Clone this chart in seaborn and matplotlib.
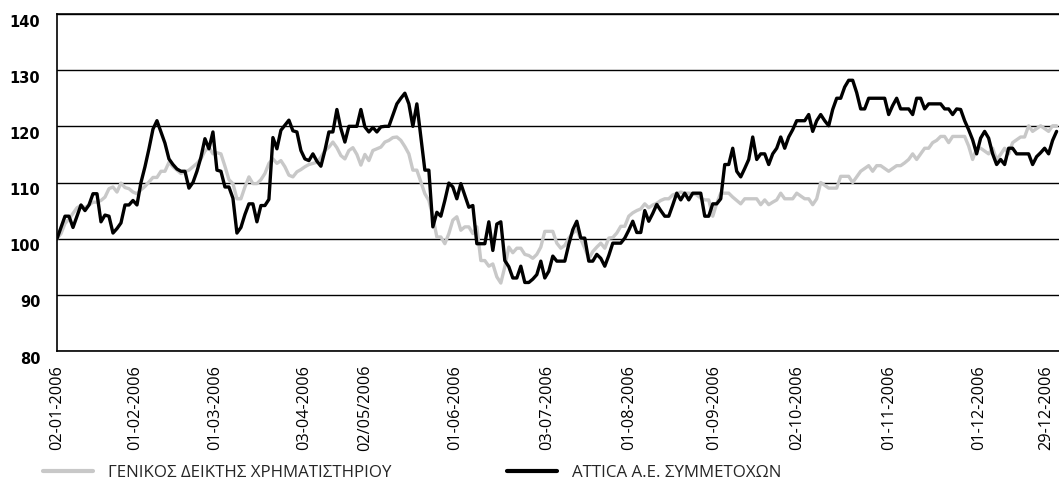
import matplotlib
matplotlib.use("Agg")
import matplotlib.pyplot as plt
import matplotlib.transforms as mtransforms
import seaborn as sns
import pandas as pd
import numpy as np

series_names = ["ΓΕΝΙΚΟΣ ΔΕΙΚΤΗΣ ΧΡΗΜΑΤΙΣΤΗΡΙΟΥ", "ATTICA Α.Ε. ΣΥΜΜΕΤΟΧΩΝ"]

general_index = [
    100, 100.9, 102.7, 103.5, 104.5, 105.5, 105.9, 105.5, 106, 106.5,
    106.5, 106.8, 107.4, 108.9, 109.2, 108.3, 109.9, 109.1, 108.9, 108.3,
    108, 108.7, 109.3, 110.1, 110.9, 110.9, 112, 112, 113.6, 112.8,
    112.2, 111.6, 111.9, 112.2, 112.8, 113.4, 114.2, 115.6, 116.3, 115.1,
    115.3, 115.1, 112.9, 110.5, 109.8, 107.1, 107.1, 109.2, 111, 109.8,
    109.8, 110.5, 111.6, 113.4, 114.2, 113.4, 113.9, 112.8, 111.3, 111,
    111.9, 112.3, 112.8, 113.2, 113.4, 113.6, 114.5, 115.7, 116.3, 117.2,
    116.2, 114.8, 114.2, 115.7, 116.2, 115, 113.1, 115, 113.9, 115.7,
    116, 116.3, 117.2, 117.5, 118, 118.1, 117.5, 116.4, 115.1, 112.2,
    112.2, 110.1, 108, 106.8, 103.9, 100.3, 100.3, 99.1, 100.9, 103.3,
    103.9, 101.5, 102.1, 102.1, 100.9, 102.1, 96.1, 96.1, 95.1, 95.5,
    93.2, 92.1, 95, 98.5, 97.5, 98.3, 98.3, 97.2, 97, 96.5,
    97.2, 98.5, 101.3, 101.3, 101.3, 99.2, 98.3, 98.8, 100.1, 101,
    101.6, 99.9, 98.3, 96.4, 97.7, 98.5, 99.2, 98.3, 100.1, 100.2,
    101, 102.2, 102.2, 104, 104.6, 105, 105.3, 106.2, 105.5, 106,
    106.3, 106.8, 107.1, 107.1, 107.8, 108, 108.3, 108.1, 108.1, 108,
    107.8, 107.2, 106.9, 106.9, 104, 106.3, 108.1, 108.1, 108.1, 107.4,
    106.8, 106.2, 107.1, 107.1, 107.1, 107.1, 106.05, 106.9, 106.05, 106.5,
    106.9, 108.1, 107.1, 107.1, 107.1, 108.1, 107.6, 107.1, 107.1, 106.05,
    107.1, 110, 109.5, 109, 109, 109, 111.1, 111.1, 111.1, 110,
    111, 112, 112.5, 113, 112, 113, 113, 112.5, 112, 112.5,
    113, 113, 113.5, 114.1, 115.1, 114.1, 115.1, 116.1, 116.1, 117.1,
    117.5, 118.2, 118.2, 117.1, 118.2, 118.2, 118.2, 118.2, 116.5, 114.1,
    116.1, 116.1, 115.6, 115.1, 116.1, 114.1, 115, 116.1, 115.1, 117.1,
    117.6, 118.1, 118.1, 120.1, 119.1, 119.6, 120.1, 119.6, 119.1, 120.1,
    120.1,
]

attica = [
    100, 102, 104, 104, 102, 104, 106, 105, 106, 108,
    108, 103, 104.2, 104, 101, 101.8, 102.8, 106, 106, 106.8,
    106, 110, 112.8, 116, 119.5, 121, 119, 117, 114.2, 113.2,
    112.4, 112, 112, 109, 110, 112, 114.5, 117.8, 116, 119,
    112.2, 112, 109.2, 109.2, 107.2, 101, 102, 104.3, 106.2, 106.2,
    103, 105.9, 105.9, 107, 118, 116, 119.3, 120.2, 121.1, 119.2,
    119, 115.7, 114.2, 113.9, 115.1, 113.8, 112.9, 115.7, 119, 119,
    123, 119.6, 117.2, 120, 120, 120, 123, 119.9, 119, 119.8,
    119, 119.9, 120, 120, 122, 124, 125, 125.9, 124, 120,
    124, 118.1, 112.2, 112.2, 102.1, 104.7, 104, 106.8, 109.9, 109.2,
    107.1, 109.8, 107.7, 105.6, 105.9, 99.1, 99.1, 99.1, 103, 97.9,
    102.6, 103, 96.1, 95, 93, 93, 95.1, 92.2, 92.2, 92.8,
    93.6, 96, 93, 94.2, 96.9, 96, 96, 96, 99, 101.6,
    103.1, 100.1, 100.1, 96, 96, 97.2, 96.5, 95.1, 97, 99.2,
    99.2, 99.2, 100.1, 101.5, 103.1, 101.1, 101.1, 105, 103.1, 104.5,
    106.1, 105, 104, 104, 106, 108.1, 106.9, 108.1, 106.9, 108.1,
    108.1, 108.1, 104, 104, 106.2, 106.2, 107.1, 113.2, 113.2, 116.1,
    112, 111, 112.5, 114.1, 118.1, 114.1, 115.1, 115.1, 113.2, 115.1,
    116.1, 118.1, 116.1, 118.1, 119.4, 121, 121, 121, 122.1, 119.1,
    121, 122.1, 121, 120.1, 123, 125, 125, 127, 128.2, 128.2,
    126, 123.1, 123.1, 125, 125, 125, 125, 125, 122.1, 123.7,
    125, 123.1, 123.1, 123.1, 122.1, 125, 125, 123.1, 124, 124,
    124, 124, 123.1, 123.1, 122.1, 123.1, 123, 121, 119.4, 117.6,
    115.1, 117.9, 119.1, 117.9, 115.1, 113.2, 114.1, 113.2, 116.1, 116.1,
    115.1, 115.1, 115.1, 115.1, 113.2, 114.6, 115.3, 116.1, 115.1, 117.5,
    119.1,
]

tick_labels = ["02-01-2006", "01-02-2006", "01-03-2006", "03-04-2006", "02/05/2006",
               "01-06-2006", "03-07-2006", "01-08-2006", "01-09-2006", "02-10-2006",
               "01-11-2006", "01-12-2006", "29-12-2006"]
tick_days = [0, 19.5, 39.5, 61.75, 77, 99.5, 122.5, 143, 164.25, 185, 208, 230.5, 247.5]
y_ticks = [80, 90, 100, 110, 120, 130, 140]

sns.set_theme(style="white")
plt.rcParams['font.family'] = ['Open Sans', 'DejaVu Sans']

W, H = 1059, 479
fig = plt.figure(figsize=(W / 100, H / 100), dpi=100)
ax = fig.add_axes([57 / W, 1 - 351 / H, 1 - 57 / W, (351 - 14) / H])

days = np.arange(len(attica))
df = pd.concat([
    pd.DataFrame({"day": days, "value": general_index, "series": series_names[0]}),
    pd.DataFrame({"day": days, "value": attica, "series": series_names[1]}),
], ignore_index=True)

sns.lineplot(data=df, x="day", y="value", hue="series", hue_order=series_names,
             palette=["#c8c8c8", "#000000"], linewidth=2.4, ax=ax)

handles, labels = ax.get_legend_handles_labels()
ax.get_legend().remove()
for h in handles:
    h.set_linewidth(3.0)
fig.legend(handles, labels, loc="center left", bbox_to_anchor=(43 / W, (H - 473) / H),
           ncol=2, frameon=False, fontsize=12.2, handlelength=2.95, handletextpad=0.9,
           columnspacing=6.8, borderaxespad=0, borderpad=0)

ax.set_xlim(0, 250.6)
ax.set_ylim(80, 140)
ax.set_yticks(y_ticks)
ax.set_xticks(tick_days)
ax.set_xticklabels(tick_labels, rotation=90, fontsize=11.7)
ax.set_xlabel("")
ax.set_ylabel("")
ax.yaxis.grid(True, color="black", linewidth=1.0)
ax.xaxis.grid(False)
ax.set_axisbelow(True)
ax.tick_params(axis="both", length=0, colors="black")
ax.tick_params(axis="x", pad=10)
ax.tick_params(axis="y", pad=12)

offset = mtransforms.ScaledTranslation(0, -6.5 / 100, fig.dpi_scale_trans)
for lab in ax.get_yticklabels():
    lab.set_fontfamily("DejaVu Sans")
    lab.set_fontweight("bold")
    lab.set_fontsize(10.5)
    lab.set_transform(lab.get_transform() + offset)

for side in ["left", "bottom", "top"]:
    ax.spines[side].set_visible(True)
    ax.spines[side].set_color("black")
    ax.spines[side].set_linewidth(1.2)
ax.spines["right"].set_visible(False)

fig.savefig("out.png", dpi=100)
